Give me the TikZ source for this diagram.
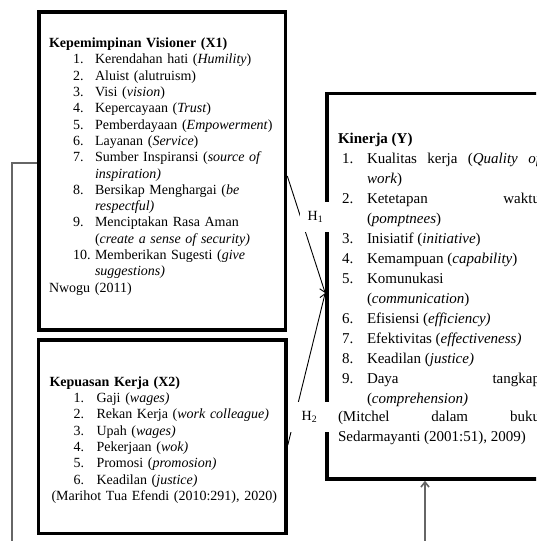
\documentclass[tikz,border=0pt]{standalone}
\usepackage{fontspec}
\setmainfont{Liberation Serif}
\usepackage{enumitem}
\usetikzlibrary{arrows.meta, positioning, calc}

\tikzset{
  varbox/.style={draw, line width=3.6pt, inner ysep=6pt, font=\fontsize{14pt}{16.3pt}\selectfont},
  hlabel/.style={fill=white, inner sep=0pt, minimum height=30pt, font=\fontsize{14pt}{16pt}\selectfont},
  hyparrow/.style={-{Straight Barb[length=5pt,width=8pt]}, line width=0.9pt},
  linkline/.style={draw=black!60, line width=1.6pt},
}
\setlist[enumerate]{itemsep=0pt, topsep=0pt, parsep=0pt, partopsep=0pt, labelsep=0pt, align=left}

\begin{document}
\begin{tikzpicture}[x=1pt, y=-1pt]
  \useasboundingbox (0,0) rectangle (536,541);
  \clip (0,0) rectangle (536,541);

  % Variabel X1
  \node[varbox, text width=226.5pt, inner xsep=10pt, minimum height=318pt, align=left] (visi) at (162.25,171) {
    \textbf{Kepemimpinan Visioner (X1)}
    \begin{enumerate}[leftmargin=46pt, labelwidth=22pt]
      \item Kerendahan hati (\textit{Humility})
      \item Aluist (alutruism)
      \item Visi (\textit{vision})
      \item Kepercayaan (\textit{Trust})
      \item Pemberdayaan (\textit{Empowerment})
      \item Layanan (\textit{Service})
      \item Sumber Inspiransi (\textit{source of inspiration)}
      \item Bersikap Menghargai (\textit{be respectful)}
      \item Menciptakan Rasa Aman (\textit{create a sense of security)}
      \item Memberikan Sugesti (\textit{give suggestions)}
    \end{enumerate}
    Nwogu (2011)\rule[-12pt]{0pt}{12pt}
  };

  % Variabel X2
  \node[varbox, text width=225.5pt, inner xsep=11pt, minimum height=193.5pt, align=left] (puas) at (162.25,436.75) {
    \rule{0pt}{16pt}\textbf{Kepuasan Kerja (X2)}
    \begin{enumerate}[leftmargin=47pt, labelwidth=23pt]
      \item Gaji (\textit{wages)}
      \item Rekan Kerja (\textit{work colleague)}
      \item Upah (\textit{wages)}
      \item Pekerjaan (\textit{wok)}
      \item Promosi (\textit{promosion)}
      \item Keadilan (\textit{justice)}
    \end{enumerate}
    \mbox{\hspace*{2pt}(Marihot Tua Efendi (2010:291), 2020)}
  };

  % Variabel Y
  \node[varbox, font=\fontsize{15pt}{20pt}\selectfont, text width=202pt, inner xsep=11pt, minimum height=385.5pt, align=justify] (kinerja) at (439,286.25) {
    \hyphenpenalty=10000 \exhyphenpenalty=10000 \tolerance=10000
    \rule{0pt}{15pt}\textbf{Kinerja (Y)}
    \begin{enumerate}[leftmargin=29pt, labelwidth=25pt, topsep=-2pt]
      \item Kualitas kerja (\textit{Quality of work})
      \item Ketetapan waktu (\textit{pomptnees})
      \item Inisiatif (\textit{initiative})
      \item Kemampuan (\textit{capability})
      \item Komunukasi (\textit{communication})
      \item Efisiensi (\textit{efficiency)}
      \item Efektivitas (\textit{effectiveness)}
      \item Keadilan (\textit{justice)}
      \item Daya tangkap (\textit{comprehension)}
    \end{enumerate}
    (Mitchel dalam buku \mbox{Sedarmayanti} (2001:51), 2009)\par
  };

  % Hipotesis
  \draw[hyparrow] ([yshift=-5pt]visi.east) -- ([yshift=-6.75pt]kinerja.west);
  \draw[hyparrow] ([yshift=-8.25pt]puas.east) -- ([yshift=-6.75pt]kinerja.west);
  \node[hlabel, minimum width=31pt] (h1) at (315.5,217) {H\textsubscript{1}};
  \node[hlabel, minimum width=43pt] (h2) at (309.5,417) {H\textsubscript{2}};

  % Garis lanjutan
  \coordinate (leftend) at (12,545);
  \coordinate (lowend) at (425,545);
  \draw[linkline] (leftend) |- ([yshift=8pt]visi.west);
  \draw[linkline, -{Straight Barb[length=5pt,width=8pt]}] (lowend) -- (lowend |- kinerja.south);
\end{tikzpicture}
\end{document}
